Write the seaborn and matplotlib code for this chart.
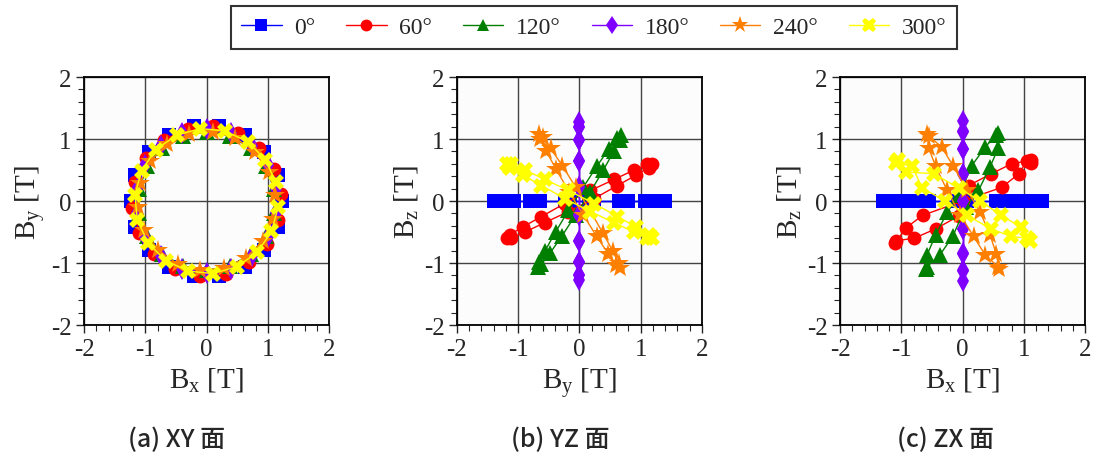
import matplotlib
matplotlib.use('Agg')
import matplotlib.pyplot as plt
import seaborn as sns
from matplotlib.ticker import MultipleLocator

# legend labels / colours / markers for the six rotation angles
labels = ['0°', '60°', '120°', '180°', '240°', '300°']
colors = ['#0000ff', '#ff0000', '#007f00', '#8000ff', '#ff7f00', '#ffff00']
markers = ['s', 'o', '^', 'd', '*', 'X']
msizes = [10, 10, 11, 11, 15, 12]

# (a) XY plane: Bx, By
xy_bx = [
    [1.23, 1.16, 0.94, 0.62, 0.21, -0.21, -0.62, -0.94, -1.16, -1.23, -1.16, -0.94, -0.62, -0.21, 0.21, 0.62, 0.94, 1.16],
    [1.21, 1.10, 0.86, 0.51, 0.11, -0.31, -0.69, -0.99, -1.17, -1.21, -1.10, -0.86, -0.51, -0.11, 0.31, 0.69, 0.99, 1.17],
    [1.10, 0.97, 0.72, 0.38, 0.00, -0.38, -0.72, -0.97, -1.10, -1.10, -0.97, -0.72, -0.38, 0.00, 0.38, 0.72, 0.97, 1.10],
    [1.14, 1.00, 0.75, 0.40, 0.00, -0.40, -0.75, -1.00, -1.14, -1.14, -1.00, -0.75, -0.40, 0.00, 0.40, 0.75, 1.00, 1.14],
    [1.12, 1.02, 0.79, 0.47, 0.10, -0.29, -0.64, -0.92, -1.08, -1.12, -1.02, -0.79, -0.47, -0.10, 0.29, 0.64, 0.92, 1.08],
    [1.13, 0.96, 0.67, 0.30, -0.10, -0.49, -0.83, -1.06, -1.17, -1.13, -0.96, -0.67, -0.30, 0.10, 0.49, 0.83, 1.06, 1.17],
]
xy_by = [
    [0.00, 0.42, 0.79, 1.07, 1.21, 1.21, 1.07, 0.79, 0.42, 0.00, -0.42, -0.79, -1.07, -1.21, -1.21, -1.07, -0.79, -0.42],
    [0.11, 0.51, 0.86, 1.10, 1.21, 1.17, 0.99, 0.69, 0.31, -0.11, -0.51, -0.86, -1.10, -1.21, -1.17, -0.99, -0.69, -0.31],
    [0.19, 0.56, 0.86, 1.05, 1.12, 1.05, 0.86, 0.56, 0.19, -0.19, -0.56, -0.86, -1.05, -1.12, -1.05, -0.86, -0.56, -0.19],
    [0.20, 0.58, 0.89, 1.09, 1.16, 1.09, 0.89, 0.58, 0.20, -0.20, -0.58, -0.89, -1.09, -1.16, -1.09, -0.89, -0.58, -0.20],
    [0.10, 0.47, 0.79, 1.02, 1.12, 1.08, 0.92, 0.64, 0.29, -0.10, -0.47, -0.79, -1.02, -1.12, -1.08, -0.92, -0.64, -0.29],
    [0.30, 0.67, 0.96, 1.13, 1.17, 1.06, 0.83, 0.49, 0.10, -0.30, -0.67, -0.96, -1.13, -1.17, -1.06, -0.83, -0.49, -0.10],
]

# (b) YZ plane: By, Bz
yz_by = [
    [1.40, 1.32, 1.07, 0.80, 0.24, -0.24, -0.80, -1.07, -1.32, -1.40, -1.32, -1.20, -0.65, -0.16, 0.16, 0.65, 1.20, 1.32],
    [1.19, 1.11, 0.89, 0.57, 0.18, -0.24, -0.62, -0.93, -1.13, -1.19, -1.11, -0.89, -0.57, -0.18, 0.24, 0.62, 0.93, 1.13],
    [0.68, 0.62, 0.48, 0.29, 0.06, -0.18, -0.39, -0.56, -0.66, -0.68, -0.62, -0.48, -0.29, -0.06, 0.18, 0.39, 0.56, 0.66],
    [0.00, 0.00, 0.00, 0.00, 0.00, 0.00, 0.00, 0.00, 0.00, 0.00, 0.00, 0.00, 0.00, 0.00, 0.00, 0.00, 0.00, 0.00],
    [-0.66, -0.64, -0.54, -0.38, -0.17, 0.06, 0.28, 0.47, 0.60, 0.66, 0.64, 0.54, 0.38, 0.17, -0.06, -0.28, -0.47, -0.60],
    [-1.19, -1.13, -0.93, -0.62, -0.24, 0.18, 0.57, 0.89, 1.11, 1.19, 1.13, 0.93, 0.62, 0.24, -0.18, -0.57, -0.89, -1.11],
]
yz_bz = [
    [0.00, 0.00, 0.00, 0.00, 0.00, 0.00, 0.00, 0.00, 0.00, 0.00, 0.00, 0.00, 0.00, 0.00, 0.00, 0.00, 0.00, 0.00],
    [0.60, 0.59, 0.50, 0.35, 0.17, -0.04, -0.25, -0.42, -0.54, -0.60, -0.59, -0.50, -0.35, -0.17, 0.04, 0.25, 0.42, 0.54],
    [1.07, 1.02, 0.84, 0.57, 0.22, -0.15, -0.50, -0.80, -0.99, -1.07, -1.02, -0.84, -0.57, -0.22, 0.15, 0.50, 0.80, 0.99],
    [1.28, 1.20, 0.98, 0.64, 0.22, -0.22, -0.64, -0.98, -1.20, -1.28, -1.20, -0.98, -0.64, -0.22, 0.22, 0.64, 0.98, 1.20],
    [1.08, 1.00, 0.80, 0.51, 0.15, -0.22, -0.57, -0.85, -1.03, -1.08, -1.00, -0.80, -0.51, -0.15, 0.22, 0.57, 0.85, 1.03],
    [0.60, 0.54, 0.42, 0.25, 0.04, -0.17, -0.35, -0.50, -0.59, -0.60, -0.54, -0.42, -0.25, -0.04, 0.17, 0.35, 0.50, 0.59],
]

# (c) ZX plane: Bx, Bz
zx_bx = [
    [1.30, 1.18, 0.92, 0.55, 0.08, -0.55, -0.92, -1.18, -1.30, -1.22, -0.98, -0.72, -0.08, 0.72, 0.98, 1.22],
    [1.12, 0.80, 0.47, 0.10, -0.06, -0.44, -0.79, -1.08, -1.10, -0.92, -0.65, 0.00, 0.64, 0.92, 1.05, 1.12],
    [0.58, 0.37, 0.15, -0.05, -0.25, -0.44, -0.58, -0.60, -0.58, -0.37, -0.16, 0.05, 0.26, 0.45, 0.58, 0.55],
    [0.00, 0.00, 0.00, 0.00, 0.00, 0.00, 0.00, 0.00, 0.00, 0.00, 0.00, 0.00, 0.00, 0.00, 0.00, 0.00],
    [-0.58, -0.55, -0.44, -0.25, -0.04, 0.18, 0.37, 0.58, 0.60, 0.55, 0.45, 0.29, 0.07, -0.15, -0.34, -0.55],
    [-1.09, -0.82, -0.66, -0.28, 0.07, 0.47, 0.79, 1.05, 1.10, 0.95, 0.63, 0.29, -0.06, -0.47, -0.92, -1.05],
]
zx_bz = [
    [0.00, 0.00, 0.00, 0.00, 0.00, 0.00, 0.00, 0.00, 0.00, 0.00, 0.00, 0.00, 0.00, 0.00, 0.00, 0.00],
    [0.66, 0.60, 0.44, 0.25, -0.24, -0.45, -0.60, -0.64, -0.68, -0.43, -0.23, 0.00, 0.22, 0.44, 0.65, 0.62],
    [1.10, 0.87, 0.57, 0.10, -0.18, -0.55, -0.87, -1.10, -1.06, -0.87, -0.57, -0.10, 0.17, 0.55, 0.85, 1.06],
    [1.29, 1.13, 0.84, 0.44, 0.00, -0.45, -0.84, -1.12, -1.29, -1.13, -0.85, -0.45, 0.00, 0.44, 0.84, 1.12],
    [1.08, 0.85, 0.56, 0.17, -0.22, -0.57, -0.87, -1.06, -1.10, -0.85, -0.55, -0.18, 0.18, 0.56, 0.87, 1.05],
    [0.62, 0.56, 0.21, 0.00, -0.23, -0.45, -0.57, -0.60, -0.65, -0.42, -0.23, 0.00, 0.21, 0.44, 0.47, 0.66],
]

panels = [
    (xy_bx, xy_by, r'B$_\mathregular{x}$ [T]', r'B$_\mathregular{y}$ [T]', '(a) XY 面'),
    (yz_by, yz_bz, r'B$_\mathregular{y}$ [T]', r'B$_\mathregular{z}$ [T]', '(b) YZ 面'),
    (zx_bx, zx_bz, r'B$_\mathregular{x}$ [T]', r'B$_\mathregular{z}$ [T]', '(c) ZX 面'),
]

sns.set_style('white')
plt.rcParams['font.family'] = ['Liberation Serif', 'DejaVu Serif']
plt.rcParams['mathtext.fontset'] = 'custom'
plt.rcParams['mathtext.rm'] = 'Liberation Serif'

fig = plt.figure(figsize=(11.03, 4.60), dpi=100)
lefts = [0.0762, 0.4143, 0.7616]
caption_x = [0.160, 0.508, 0.857]

for i, (xs, ys, xlab, ylab, cap) in enumerate(panels):
    ax = fig.add_axes([lefts[i], 0.2913, 0.2221, 0.539])
    ax.set_facecolor('#fcfcfc')
    for j in range(len(labels)):
        sns.lineplot(x=xs[j], y=ys[j], ax=ax, sort=False, estimator=None,
                     color=colors[j], marker=markers[j], markersize=msizes[j],
                     markeredgewidth=0, linewidth=1.0, label=labels[j], legend=False)
    ax.set_xlim(-2, 2)
    ax.set_ylim(-2, 2)
    ax.xaxis.set_minor_locator(MultipleLocator(0.2))
    ax.yaxis.set_minor_locator(MultipleLocator(0.2))
    ax.set_xticks([-2, -1, 0, 1, 2])
    ax.set_xticklabels(['-2', '-1', '0', '1', '2'])
    ax.set_yticks([-2, -1, 0, 1, 2])
    ax.set_yticklabels(['-2', '-1', '0', '1', '2'])
    ax.grid(True, which='major', color='#444444', linewidth=1.0)
    ax.set_axisbelow(True)
    ax.tick_params(which='major', direction='out', length=6, width=1.0, labelsize=18,
                   bottom=True, left=True, top=False, right=False, pad=3)
    ax.tick_params(which='minor', direction='out', length=4, width=0.8,
                   bottom=True, left=True, top=False, right=False)
    for sp in ax.spines.values():
        sp.set_color('black')
        sp.set_linewidth(1.3)
    ax.set_xlabel(xlab, fontsize=21, labelpad=4)
    ax.set_ylabel(ylab, fontsize=21, labelpad=2)
    fig.text(caption_x[i], 0.043, cap, fontsize=18, ha='center', va='center',
             family=['Noto Sans CJK JP', 'DejaVu Sans'], weight='medium')
    if i == 0:
        handles, hl = ax.get_legend_handles_labels()

leg = fig.legend(handles, hl, loc='center', bbox_to_anchor=(0.5385, 0.938), ncol=6,
                 fontsize=17, frameon=True, fancybox=False, edgecolor='black',
                 handlelength=1.7, columnspacing=1.3, handletextpad=0.55,
                 borderpad=0.45, markerscale=0.85)
leg.get_frame().set_linewidth(1.5)

fig.savefig('out.png', dpi=100)
